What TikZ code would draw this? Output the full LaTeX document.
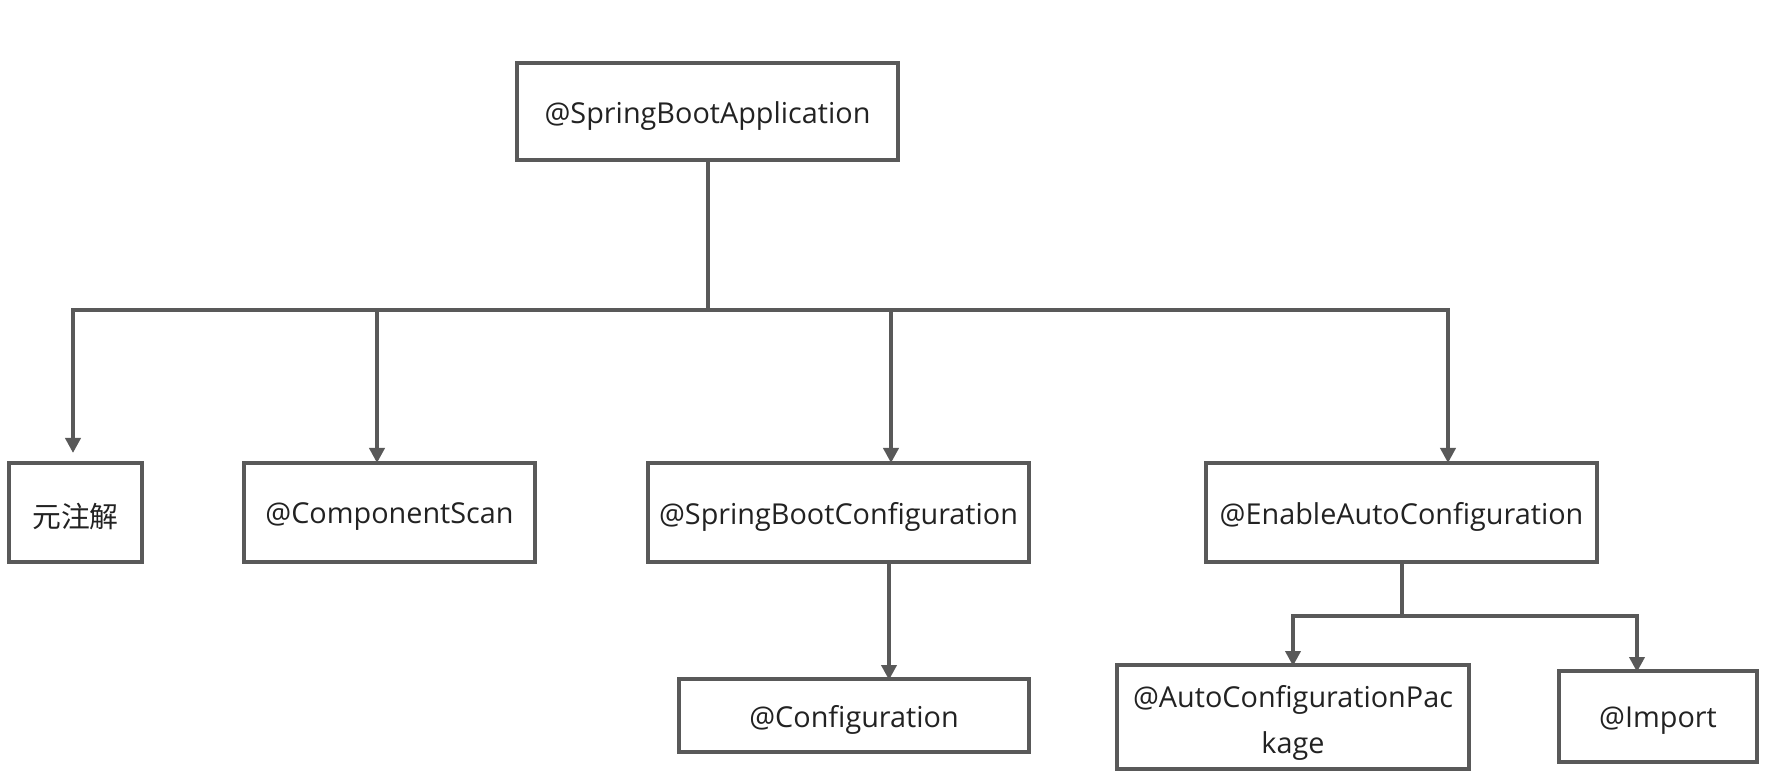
\documentclass[tikz,border=0pt]{standalone}
\usepackage{fontspec}
\setmainfont{Open Sans}
\newfontfamily\cjk{Noto Sans CJK SC}
\usetikzlibrary{arrows.meta}
\definecolor{ln}{HTML}{595959}
\definecolor{tx}{HTML}{222222}
\tikzset{
  box/.style={draw=ln, line width=2pt, rectangle, inner sep=0pt, text=tx, font=\fontsize{14.4}{23}\selectfont, align=center},
  conn/.style={draw=ln, line width=2pt},
  arr/.style={conn, -{Triangle[width=7.5pt,length=7.5pt]}}
}
\newcommand{\lowtxt}[1]{\raisebox{-2.2pt}[\height][\depth]{#1}}
\begin{document}
\begin{tikzpicture}[x=0.5pt,y=-0.5pt]
\useasboundingbox (0,0) rectangle (1766,774);
\node[box, minimum width=190.5pt, minimum height=48.5pt] (top) at (707.5,111.5) {\lowtxt{@SpringBootApplication}};
\node[box, minimum width=66.5pt, minimum height=49.5pt] (n1) at (75.5,512.5) {\lowtxt{\cjk 元注解}};
\node[box, minimum width=145.5pt, minimum height=49.5pt] (n2) at (389.5,512.5) {\lowtxt{@ComponentScan}};
\node[box, minimum width=190.5pt, minimum height=49.5pt] (n3) at (838.5,512.5) {\lowtxt{@SpringBootConfiguration}};
\node[box, minimum width=195.5pt, minimum height=49.5pt] (n4) at (1401.5,512.5) {\lowtxt{@EnableAutoConfiguration}};
\node[box, minimum width=175pt, minimum height=36.5pt] (n5) at (854,715.5) {\lowtxt{@Configuration}};
\node[box, minimum width=176pt, minimum height=52pt] (n6) at (1293,717) {\lowtxt{\begin{tabular}{@{}c@{}}@AutoConfigurationPac\\kage\end{tabular}}};
\node[box, minimum width=99pt, minimum height=45.5pt] (n7) at (1658,716.5) {\lowtxt{@Import}};
% junctions and arrow targets
\coordinate (j) at (707.5,310);
\coordinate (t1) at (73,453);
\coordinate (t2) at (377,463);
\coordinate (t3) at (891,463);
\coordinate (t4) at (1448,463);
\coordinate (t5) at (889,680);
\coordinate (s5) at (889,563);
\coordinate (j2) at (1402,616);
\coordinate (s4) at (1402,563);
\coordinate (t6) at (1293,666);
\coordinate (t7) at (1637,672);
\draw[conn] (top.south) -- (j);
\draw[arr] (j) -| (t1);
\draw[arr] (j) -| (t2);
\draw[arr] (j) -| (t3);
\draw[arr] (j) -| (t4);
\draw[arr] (s5) -- (t5);
\draw[conn] (s4) -- (j2);
\draw[arr] (j2) -| (t6);
\draw[arr] (j2) -| (t7);
\end{tikzpicture}
\end{document}
